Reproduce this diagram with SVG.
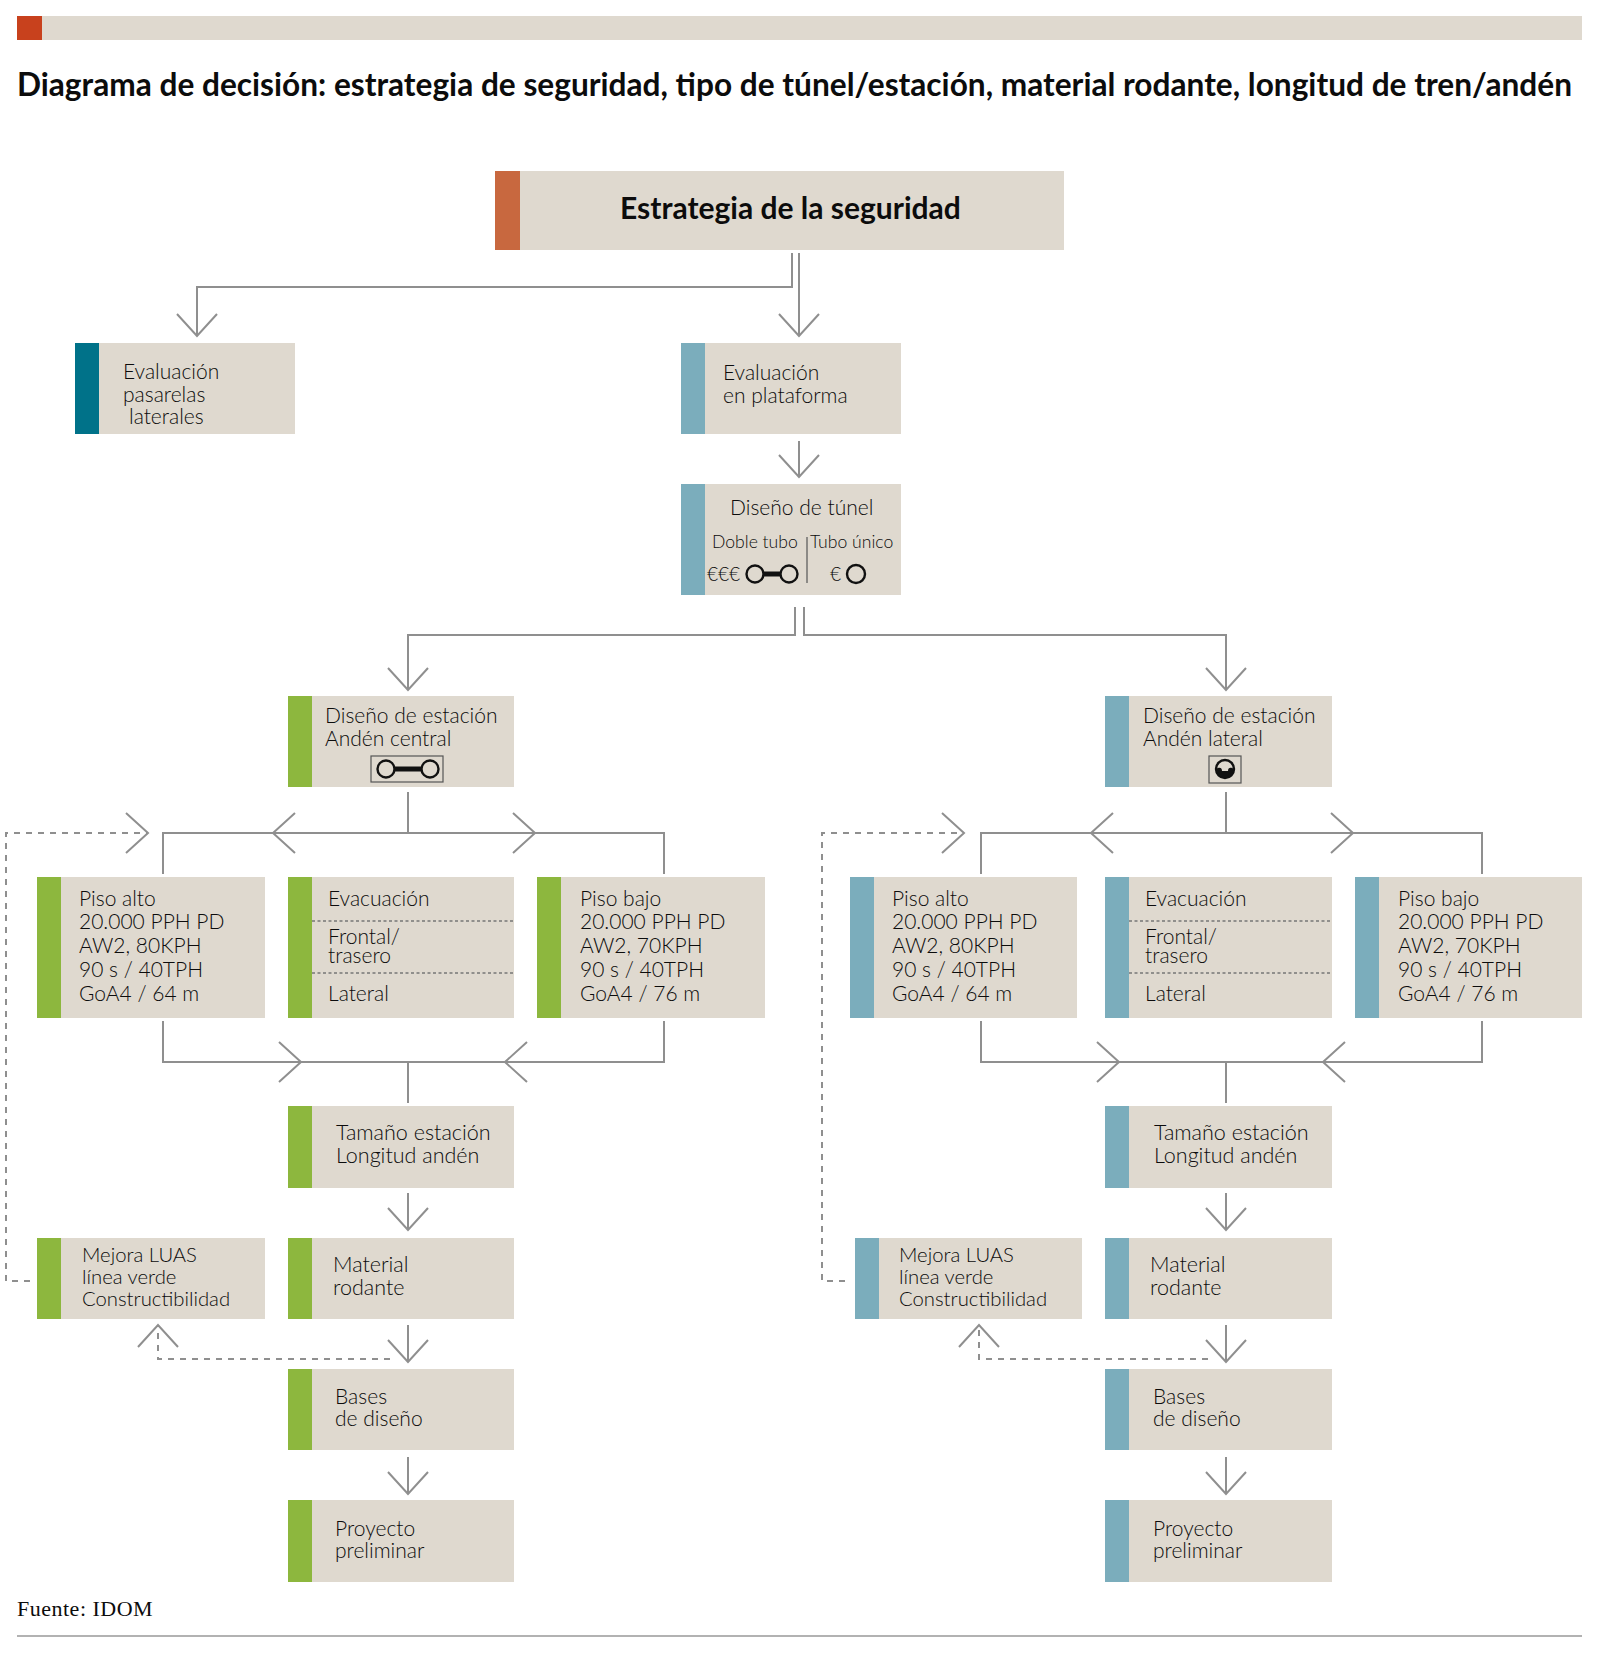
<svg xmlns="http://www.w3.org/2000/svg" width="1600" height="1668" viewBox="0 0 1600 1668">
<style>
text{font-family:"Lato","Noto Sans","Liberation Sans",sans-serif;font-weight:300;font-size:21px;fill:#0c0c0c}
.b{fill:#dfd9cf}.g{fill:#8db73e}.l{fill:#7badbc}.t{fill:#007289}.o{fill:#c8683f}.r{fill:#c8411d}
.c{fill:none;stroke:#8f8f8f;stroke-width:2}
.d{fill:none;stroke:#8f8f8f;stroke-width:2;stroke-dasharray:6 6}
.m{fill:none;stroke:#8f8f8f;stroke-width:2}
.h{font-size:17.6px}
.e{font-size:19px}
.n{font-size:20.3px}
.w{font-size:21.5px}
.i{fill:none;stroke:#111;stroke-width:2.4}
.bar{fill:none;stroke:#111;stroke-width:5}
.s{fill:none;stroke:#777;stroke-width:1.5;stroke-dasharray:3 2.5}
.x{fill:none;stroke:#555;stroke-width:1.2}
</style>
<defs>
<marker id="v" viewBox="-24 -22 26 44" refX="0" refY="0" markerWidth="26" markerHeight="44" markerUnits="userSpaceOnUse" orient="auto"><path class="m" d="M-22,-20 L0,0 L-22,20"/></marker>
</defs>
<rect width="1600" height="1668" fill="#fff"/>
<g id="header">
<rect class="b" x="17" y="16" width="1565" height="24"/><rect class="r" x="17" y="16" width="25" height="24"/>
<text x="17" y="96" style="font-size:32px;font-weight:700" textLength="1555" lengthAdjust="spacingAndGlyphs">Diagrama de decisión: estrategia de seguridad, tipo de túnel/estación, material rodante, longitud de tren/andén</text>
</g>
<g id="connectors">
<path class="c" d="M792,253V287H197V336" marker-end="url(#v)"/>
<path class="c" d="M799,253V336" marker-end="url(#v)"/>
<path class="c" d="M799,441V477" marker-end="url(#v)"/>
<path class="c" d="M795,607V635H408V690" marker-end="url(#v)"/>
<path class="c" d="M804,607V635H1226V690" marker-end="url(#v)"/>
<path class="c" d="M408,792V833H273" marker-end="url(#v)"/><path class="c" d="M273,833H163V874"/>
<path class="c" d="M408,833H535" marker-end="url(#v)"/><path class="c" d="M535,833H664V874"/>
<path class="d" d="M30,1281H6V833H148" marker-end="url(#v)"/>
<path class="c" d="M163,1021V1062H301" marker-end="url(#v)"/><path class="c" d="M664,1021V1062H505" marker-end="url(#v)"/>
<path class="c" d="M301,1062H505M408,1062V1103"/>
<path class="c" d="M408,1193V1230" marker-end="url(#v)"/>
<path class="c" d="M408,1325V1362" marker-end="url(#v)"/>
<path class="c" d="M408,1457V1494" marker-end="url(#v)"/>
<path class="d" d="M390,1359H158V1325" marker-end="url(#v)"/>
<path class="c" d="M1226,792V833H1091" marker-end="url(#v)"/><path class="c" d="M1091,833H981V874"/>
<path class="c" d="M1226,833H1353" marker-end="url(#v)"/><path class="c" d="M1353,833H1482V874"/>
<path class="d" d="M845,1281H822V833H964" marker-end="url(#v)"/>
<path class="c" d="M981,1021V1062H1119" marker-end="url(#v)"/><path class="c" d="M1482,1021V1062H1323" marker-end="url(#v)"/>
<path class="c" d="M1119,1062H1323M1226,1062V1103"/>
<path class="c" d="M1226,1193V1230" marker-end="url(#v)"/>
<path class="c" d="M1226,1325V1362" marker-end="url(#v)"/>
<path class="c" d="M1226,1457V1494" marker-end="url(#v)"/>
<path class="d" d="M1208,1359H979V1325" marker-end="url(#v)"/>
</g>
<g id="n-estrategia"><rect class="b" x="495" y="171" width="569" height="79"/><rect class="o" x="495" y="171" width="25" height="79"/>
<text x="620" y="219" style="font-size:30px;font-weight:700">Estrategia de la seguridad</text></g>
<g id="n-pasarelas"><rect class="b" x="75" y="343" width="220" height="91"/><rect class="t" x="75" y="343" width="24" height="91"/>
<text x="123" y="379">Evaluación</text><text x="123" y="402">pasarelas</text><text x="129" y="424">laterales</text></g>
<g id="n-plataforma"><rect class="b" x="681" y="343" width="220" height="91"/><rect class="l" x="681" y="343" width="24" height="91"/>
<text x="723" y="380">Evaluación</text><text x="723" y="403">en plataforma</text></g>
<g id="n-tunel"><rect class="b" x="681" y="484" width="220" height="111"/><rect class="l" x="681" y="484" width="24" height="111"/>
<text x="730" y="515">Diseño de túnel</text><text class="h" x="712" y="548">Doble tubo</text><text class="h" x="810" y="548">Tubo único</text>
<path class="x" d="M807,537V583"/><text class="e" x="707" y="581">€€€</text><text class="e" x="830" y="581">€</text>
<circle class="i" cx="755" cy="574" r="8.5"/><circle class="i" cx="789" cy="574" r="8.5"/><path class="bar" d="M764,574H780"/><circle class="i" cx="856" cy="574" r="9"/></g>
<g id="n-central"><rect class="b" x="288" y="696" width="226" height="91"/><rect class="g" x="288" y="696" width="24" height="91"/>
<text x="325" y="723">Diseño de estación</text><text x="325" y="746">Andén central</text>
<rect class="x" x="371" y="756" width="72" height="26"/><circle class="i" cx="386" cy="769" r="8.5"/><circle class="i" cx="430" cy="769" r="8.5"/><path class="bar" d="M395,769H421"/></g>
<g id="n-lateral"><rect class="b" x="1105" y="696" width="227" height="91"/><rect class="l" x="1105" y="696" width="24" height="91"/>
<text x="1143" y="723">Diseño de estación</text><text x="1143" y="746">Andén lateral</text>
<rect class="x" x="1209" y="756" width="32" height="27"/><circle class="i" cx="1225" cy="769" r="9"/><path fill="#111" d="M1216,769C1219,767 1222,767 1222,771H1228C1228,767 1231,767 1234,769A9,9 0 0 1 1216,769Z"/></g>
<g id="n-alto-i"><rect class="b" x="37" y="877" width="228" height="141"/><rect class="g" x="37" y="877" width="24" height="141"/>
<text x="79" y="906">Piso alto</text><text x="79" y="929">20.000 PPH PD</text><text x="79" y="953">AW2, 80KPH</text><text x="79" y="977">90 s / 40TPH</text><text x="79" y="1001">GoA4 / 64 m</text></g>
<g id="n-evac-i"><rect class="b" x="288" y="877" width="226" height="141"/><rect class="g" x="288" y="877" width="24" height="141"/>
<text x="328" y="906">Evacuación</text><path class="s" d="M312,921H514M312,973H514"/><text x="328" y="944">Frontal/</text><text x="328" y="963">trasero</text><text x="328" y="1001">Lateral</text></g>
<g id="n-bajo-i"><rect class="b" x="537" y="877" width="228" height="141"/><rect class="g" x="537" y="877" width="24" height="141"/>
<text x="580" y="906">Piso bajo</text><text x="580" y="929">20.000 PPH PD</text><text x="580" y="953">AW2, 70KPH</text><text x="580" y="977">90 s / 40TPH</text><text x="580" y="1001">GoA4 / 76 m</text></g>
<g id="n-alto-d"><rect class="b" x="850" y="877" width="227" height="141"/><rect class="l" x="850" y="877" width="24" height="141"/>
<text x="892" y="906">Piso alto</text><text x="892" y="929">20.000 PPH PD</text><text x="892" y="953">AW2, 80KPH</text><text x="892" y="977">90 s / 40TPH</text><text x="892" y="1001">GoA4 / 64 m</text></g>
<g id="n-evac-d"><rect class="b" x="1105" y="877" width="227" height="141"/><rect class="l" x="1105" y="877" width="24" height="141"/>
<text x="1145" y="906">Evacuación</text><path class="s" d="M1129,921H1332M1129,973H1332"/><text x="1145" y="944">Frontal/</text><text x="1145" y="963">trasero</text><text x="1145" y="1001">Lateral</text></g>
<g id="n-bajo-d"><rect class="b" x="1355" y="877" width="227" height="141"/><rect class="l" x="1355" y="877" width="24" height="141"/>
<text x="1398" y="906">Piso bajo</text><text x="1398" y="929">20.000 PPH PD</text><text x="1398" y="953">AW2, 70KPH</text><text x="1398" y="977">90 s / 40TPH</text><text x="1398" y="1001">GoA4 / 76 m</text></g>
<g id="n-tam-i"><rect class="b" x="288" y="1106" width="226" height="82"/><rect class="g" x="288" y="1106" width="24" height="82"/><text class="w" x="336" y="1140">Tamaño estación</text><text class="w" x="336" y="1163">Longitud andén</text></g>
<g id="n-mat-i"><rect class="b" x="288" y="1238" width="226" height="81"/><rect class="g" x="288" y="1238" width="24" height="81"/><text class="w" x="333" y="1272">Material</text><text class="w" x="333" y="1295">rodante</text></g>
<g id="n-mej-i"><rect class="b" x="37" y="1238" width="228" height="81"/><rect class="g" x="37" y="1238" width="24" height="81"/><text class="n" x="82" y="1262">Mejora LUAS</text><text class="n" x="82" y="1284">línea verde</text><text class="n" x="82" y="1306">Constructibilidad</text></g>
<g id="n-bas-i"><rect class="b" x="288" y="1369" width="226" height="81"/><rect class="g" x="288" y="1369" width="24" height="81"/><text x="335" y="1404">Bases</text><text x="335" y="1426">de diseño</text></g>
<g id="n-pro-i"><rect class="b" x="288" y="1500" width="226" height="82"/><rect class="g" x="288" y="1500" width="24" height="82"/><text x="335" y="1536">Proyecto</text><text x="335" y="1558">preliminar</text></g>
<g id="n-tam-d"><rect class="b" x="1105" y="1106" width="227" height="82"/><rect class="l" x="1105" y="1106" width="24" height="82"/><text class="w" x="1154" y="1140">Tamaño estación</text><text class="w" x="1154" y="1163">Longitud andén</text></g>
<g id="n-mat-d"><rect class="b" x="1105" y="1238" width="227" height="81"/><rect class="l" x="1105" y="1238" width="24" height="81"/><text class="w" x="1150" y="1272">Material</text><text class="w" x="1150" y="1295">rodante</text></g>
<g id="n-mej-d"><rect class="b" x="855" y="1238" width="227" height="81"/><rect class="l" x="855" y="1238" width="24" height="81"/><text class="n" x="899" y="1262">Mejora LUAS</text><text class="n" x="899" y="1284">línea verde</text><text class="n" x="899" y="1306">Constructibilidad</text></g>
<g id="n-bas-d"><rect class="b" x="1105" y="1369" width="227" height="81"/><rect class="l" x="1105" y="1369" width="24" height="81"/><text x="1153" y="1404">Bases</text><text x="1153" y="1426">de diseño</text></g>
<g id="n-pro-d"><rect class="b" x="1105" y="1500" width="227" height="82"/><rect class="l" x="1105" y="1500" width="24" height="82"/><text x="1153" y="1536">Proyecto</text><text x="1153" y="1558">preliminar</text></g>
<g id="footer"><text x="17" y="1616" style="font-family:'Liberation Serif',serif;font-weight:400;font-size:22px;letter-spacing:.5px">Fuente: IDOM</text><path d="M17,1636H1582" stroke="#666" stroke-width="1.2" fill="none"/></g>
</svg>
